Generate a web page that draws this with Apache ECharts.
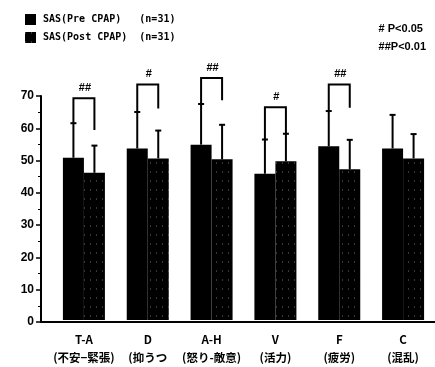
<!DOCTYPE html>
<html><head><meta charset="utf-8">
<script src="https://cdn.jsdelivr.net/npm/echarts@6/dist/echarts.min.js"></script>
<style>html,body{margin:0;padding:0;background:#fff}#c{width:435px;height:367px}</style>
</head><body><div id="c"></div>
<script>
const categories = ['T-A\n(不安−緊張)', 'D\n(抑うつ', 'A-H\n(怒り-敵意)', 'V\n(活力)', 'F\n(疲労)', 'C\n(混乱)'];
const preMean = [50.7, 53.6, 54.8, 45.7, 54.3, 53.6];
const preErrTop = [61.5, 65.0, 67.5, 56.4, 65.3, 64.1];
const postMean = [46.0, 50.5, 50.2, 49.6, 47.1, 50.5];
const postErrTop = [54.5, 59.2, 61.0, 58.2, 56.3, 58.1];
const sigTop = [69.3, 73.6, 75.6, 66.5, 73.6, null];
const sigLeftLow = [61.5, 65.0, 67.5, 56.4, 65.3, null];
const sigRightLow = [59.4, 66.1, 68.7, 58.2, 66.3, null];
const sigLabel = ['##', '#', '##', '#', '##', ''];
const yTicks = [0, 10, 20, 30, 40, 50, 60, 70];
const legendNames = ['SAS(Pre CPAP)   (n=31)', 'SAS(Post CPAP)  (n=31)'];

const BW = 21;
const chart = echarts.init(document.getElementById('c'));

function errItem(off) {
  return function (params, api) {
    const idx = api.value(0);
    const p0 = api.coord([idx, api.value(1)]);
    const p1 = api.coord([idx, api.value(2)]);
    const x = p0[0] + off;
    return {type: 'group', children: [
      {type: 'line', shape: {x1: x, y1: p0[1], x2: x, y2: p1[1]}, style: {stroke: '#000', lineWidth: 2}},
      {type: 'line', shape: {x1: x - 3, y1: p1[1], x2: x + 3, y2: p1[1]}, style: {stroke: '#000', lineWidth: 2}}
    ]};
  };
}

chart.setOption({
  animation: false,
  backgroundColor: '#fff',
  title: {text: '# P<0.05\n##P<0.01', right: 4, top: 15,
    textStyle: {fontSize: 11, fontWeight: 'bold', color: '#000', lineHeight: 18, fontFamily: 'Liberation Sans'}},
  legend: {
    orient: 'vertical', left: 20, top: 9, itemWidth: 11, itemHeight: 11, itemGap: 7,
    icon: 'rect', data: legendNames,
    textStyle: {fontSize: 10, fontWeight: 'bold', color: '#000', fontFamily: 'DejaVu Sans Mono', padding: [0, 0, 0, 2]}
  },
  grid: [
    {left: 41, right: 0, top: 96, bottom: 45},
    {left: 52, right: -15, top: 96, bottom: 45}
  ],
  xAxis: [
    {type: 'category', gridIndex: 0, data: [''], axisLine: {lineStyle: {color: '#000', width: 2}},
     axisTick: {show: false}, axisLabel: {show: false}},
    {type: 'category', gridIndex: 1, data: categories, axisLine: {show: false}, axisTick: {show: false},
     axisLabel: {interval: 0, fontSize: 11.5, lineHeight: 18, margin: 11, fontWeight: 'bold', color: '#000',
       fontFamily: 'Noto Sans CJK JP'}}
  ],
  yAxis: [
    {type: 'value', gridIndex: 0, min: 0, max: 70, interval: 10,
     axisLine: {show: true, lineStyle: {color: '#000', width: 2}},
     axisTick: {show: true, length: 5, lineStyle: {color: '#000', width: 1.5}},
     minorTick: {show: true, splitNumber: 2, length: 3, lineStyle: {color: '#000'}},
     splitLine: {show: false},
     axisLabel: {fontSize: 12, fontWeight: 'bold', color: '#000', margin: 7, fontFamily: 'Liberation Sans',
       formatter: v => yTicks.includes(v) ? String(v) : ''}},
    {type: 'value', gridIndex: 1, min: 0, max: 70, interval: 10, show: false}
  ],
  series: [
    {name: legendNames[0], type: 'bar', xAxisIndex: 1, yAxisIndex: 1, data: preMean, barWidth: BW, barGap: '0%',
     itemStyle: {color: '#000'}},
    {name: legendNames[1], type: 'bar', xAxisIndex: 1, yAxisIndex: 1, data: postMean, barWidth: BW, barGap: '0%',
     itemStyle: {color: '#000', decal: {symbol: 'rect', symbolSize: 0.5, color: 'rgba(255,255,255,0.85)',
       dashArrayX: [1, 5], dashArrayY: [2, 7], rotation: 0}}},
    {type: 'custom', xAxisIndex: 1, yAxisIndex: 1, renderItem: errItem(-BW / 2),
     data: preMean.map((v, i) => [i, v, preErrTop[i]]), z: 5},
    {type: 'custom', xAxisIndex: 1, yAxisIndex: 1, renderItem: errItem(BW / 2),
     data: postMean.map((v, i) => [i, v, postErrTop[i]]), z: 5},
    {type: 'custom', xAxisIndex: 1, yAxisIndex: 1, z: 6,
     data: sigTop.map((v, i) => [i, v, sigLeftLow[i], sigRightLow[i], sigLabel[i]]).filter(d => d[1] != null),
     renderItem: function (params, api) {
       const idx = api.value(0);
       const t = api.coord([idx, api.value(1)]);
       const l = api.coord([idx, api.value(2)]);
       const r = api.coord([idx, api.value(3)]);
       const xl = t[0] - BW / 2, xr = t[0] + BW / 2;
       return {type: 'group', children: [
         {type: 'polyline', shape: {points: [[xl, l[1]], [xl, t[1]], [xr, t[1]], [xr, r[1]]]},
          style: {stroke: '#000', lineWidth: 2, fill: null}},
         {type: 'text', style: {text: sigLabel[idx], x: t[0] + 1, y: t[1] - 5, align: 'center', verticalAlign: 'bottom',
          fontSize: 11, fontWeight: 'bold', fill: '#000', fontFamily: 'Liberation Sans'}}
       ]};
     }}
  ]
});
</script></body></html>
